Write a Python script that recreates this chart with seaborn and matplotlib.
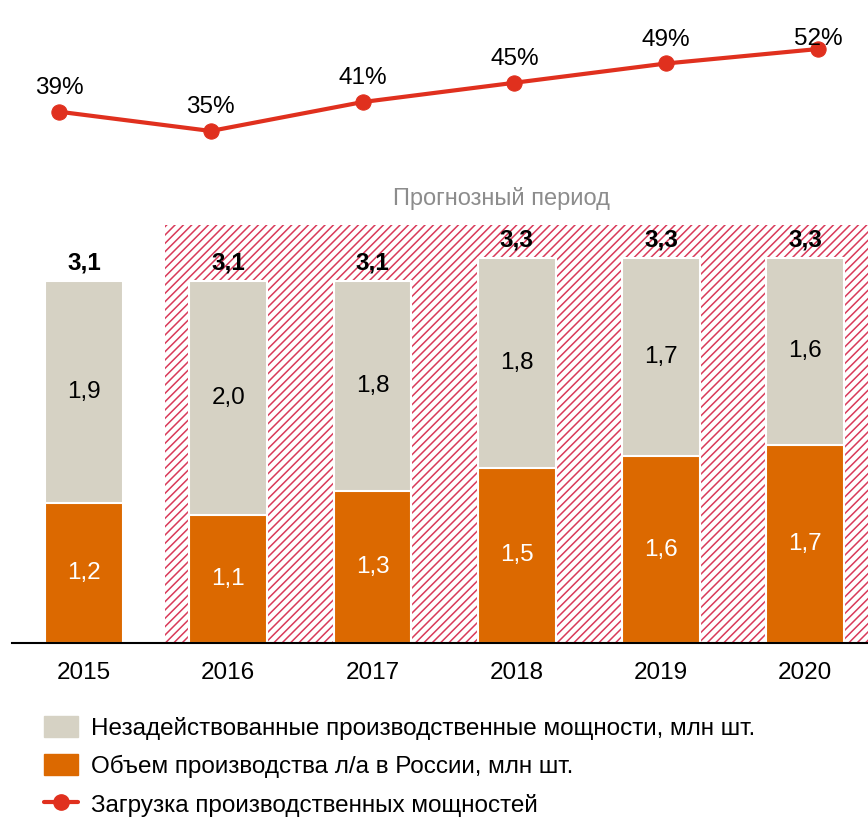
import matplotlib
matplotlib.use("Agg")
import matplotlib.pyplot as plt
import seaborn as sns
import pandas as pd
from matplotlib.patches import Patch
from matplotlib.lines import Line2D

# data
years = ["2015", "2016", "2017", "2018", "2019", "2020"]
production = [1.2, 1.1, 1.3, 1.5, 1.6, 1.7]
unused = [1.9, 2.0, 1.8, 1.8, 1.7, 1.6]
totals = [3.1, 3.1, 3.1, 3.3, 3.3, 3.3]
load_pct = [39, 35, 41, 45, 49, 52]

legend_labels = [
    "Незадействованные производственные мощности, млн шт.",
    "Объем производства л/а в России, млн шт.",
    "Загрузка производственных мощностей",
]
forecast_label = "Прогнозный период"

ORANGE = "#dc6900"
GREY = "#d6d2c4"
RED = "#e0301e"
HATCH = "#d93a5a"
FS = 17.5

sns.set_theme(style="white")
plt.rcParams["font.family"] = ["Liberation Sans", "DejaVu Sans"]
plt.rcParams["hatch.linewidth"] = 1.1
plt.rcParams["text.color"] = "black"
plt.rcParams["xtick.color"] = "black"

W, H = 868, 818
fig = plt.figure(figsize=(W / 100, H / 100), dpi=100)

df = pd.DataFrame({"year": years, "production": production, "unused": unused,
                   "total": totals, "load": load_pct})

# bar panel
ax = fig.add_axes([12 / W, (H - 643) / H, 856 / W, 418 / H])
ax.axvspan(0.56, 5.44, facecolor="white", edgecolor=HATCH, hatch="////", linewidth=0, zorder=0)

sns.barplot(data=df, x="year", y="total", color=GREY, width=0.54, saturation=1,
            edgecolor="white", linewidth=1.5, ax=ax, zorder=2)
sns.barplot(data=df, x="year", y="production", color=ORANGE, width=0.54, saturation=1,
            edgecolor="white", linewidth=1.5, ax=ax, zorder=3)

for i, row in df.iterrows():
    ax.text(i, row["production"] / 2, f"{row['production']:.1f}".replace(".", ","),
            ha="center", va="center", color="white", fontsize=FS, zorder=4)
    ax.text(i, row["production"] + row["unused"] / 2, f"{row['unused']:.1f}".replace(".", ","),
            ha="center", va="center", color="black", fontsize=FS, zorder=4)
    ax.annotate(f"{row['total']:.1f}".replace(".", ","), (i, row["total"]),
                xytext=(0, 13), textcoords="offset points", ha="center", va="center",
                fontsize=FS, fontweight="bold", zorder=4)

ax.set_xlim(-0.5, 5.436)
ax.set_ylim(0, 3.58)
ax.set_xlabel("")
ax.set_ylabel("")
ax.set_yticks([])
ax.tick_params(axis="x", length=0, labelsize=FS, pad=14)
for s in ["top", "right", "left"]:
    ax.spines[s].set_visible(False)
ax.spines["bottom"].set_color("black")
ax.spines["bottom"].set_linewidth(1.5)
ax.spines["bottom"].set_zorder(5)

fig.text(501 / W, 1 - 199 / H, forecast_label, ha="center", va="center",
         color="#8c8c8c", fontsize=17)

# line panel
lax = fig.add_axes([0, (H - 180) / H, 1, 180 / H])
lax.set_xlim(-59 / 151.8, (W - 59) / 151.8)
lax.set_ylim(35 - (180 - 131) / 4.82, 52 + 49 / 4.82)
sns.lineplot(x=range(len(load_pct)), y=load_pct, color=RED, linewidth=3, marker="o",
             markersize=11, markeredgecolor=RED, ax=lax)
for i, v in enumerate(load_pct):
    # the last label sits lower so it stays inside the picture
    dy = 7 if i == len(load_pct) - 1 else 17
    lax.annotate(f"{v}%", (i, v), xytext=(0, dy), textcoords="offset points",
                 ha="center", va="center", fontsize=FS)
lax.axis("off")

handles = [
    Patch(facecolor=GREY, edgecolor=GREY),
    Patch(facecolor=ORANGE, edgecolor=ORANGE),
    Line2D([0], [0], color=RED, linewidth=3, marker="o", markersize=11),
]
fig.legend(handles, legend_labels, loc="upper left", bbox_to_anchor=(44 / W, 1 - 716 / H),
           frameon=False, fontsize=FS, handlelength=1.4, handleheight=0.95,
           handletextpad=0.55, labelspacing=0.6, borderpad=0, borderaxespad=0)

fig.savefig("out.png", dpi=100)
